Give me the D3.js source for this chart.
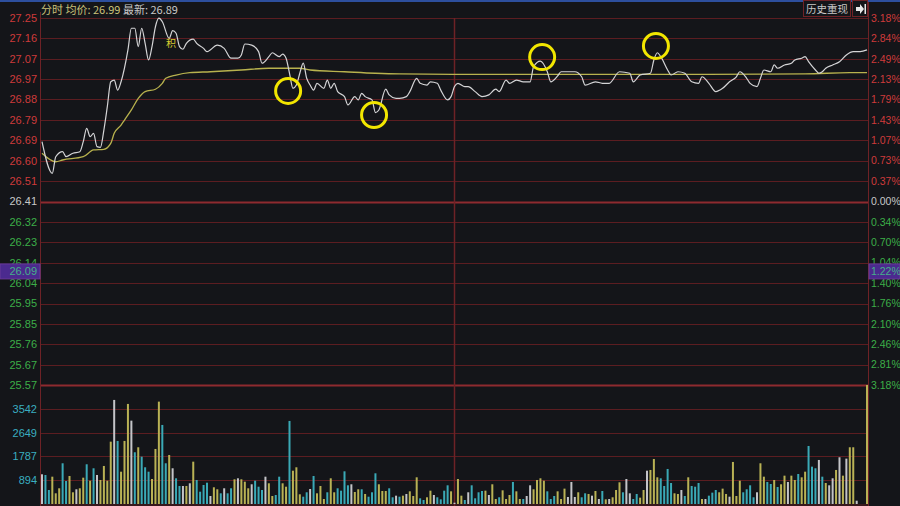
<!DOCTYPE html>
<html><head><meta charset="utf-8">
<script src="https://cdn.jsdelivr.net/npm/d3@7"></script>
<style>html,body{margin:0;padding:0;background:#141519;overflow:hidden}</style>
</head><body><svg id="c" width="900" height="506"></svg>
<script>
// ---------- data ----------
const preClose = 26.41;
const priceTicks = [27.25,27.157,27.063,26.970,26.877,26.783,26.690,26.597,26.503,26.41,26.317,26.223,26.130,26.037,25.943,25.850,25.757,25.663,25.57];
const leftLabels = ["27.25","27.16","27.07","26.97","26.88","26.79","26.69","26.60","26.51","26.41","26.32","26.23","26.14","26.04","25.95","25.85","25.76","25.67","25.57"];
const rightLabels = ["3.18%","2.84%","2.49%","2.13%","1.79%","1.43%","1.07%","0.73%","0.37%","0.00%","0.34%","0.70%","1.04%","1.40%","1.76%","2.10%","2.46%","2.81%","3.18%"];
const volTicks = [894,1787,2649,3542];
const volLabels = ["894","1787","2649","3542"];

const priceMin = [0,3,4,6,7,9,11,12,13,14,15,16,17,18,19,20,21,22,23,25,26,27,28,29,30,31,32,33,34,35,37,38,39,40,41,42,44,45,47,48,51,53,55,57,58,59,61,63,64,66,67,69,70,71,72,73,74,75,76,77,78,79,80,82,83,84,85,86,88,89,91,92,93,94,96,97,98,100,101,103,104,106,107,109,110,112,113,115,116,118,119,120,121,123,124,126,128,130,132,133,135,136,138,140,142,143,145,147,148,150,151,155,157,158,161,163,165,168,171,172,174,177,178,179,180,182,183,185,187,189,191,192,194,196,198,200,202,203,205,206,208,209,210,212,213,214,216,218,219,221,222,223,225,226,227,228,230,232,234,236,238,240];
const priceVal = [26.684,26.539,26.615,26.638,26.615,26.631,26.638,26.684,26.745,26.707,26.722,26.661,26.658,26.737,26.844,26.958,26.966,26.920,26.958,27.104,27.203,27.203,27.119,27.203,27.134,27.058,27.119,27.210,27.249,27.233,27.157,27.192,27.180,27.119,27.107,27.134,27.153,27.134,27.111,27.096,27.126,27.111,27.066,27.066,27.081,27.131,27.126,27.096,27.043,27.073,27.091,27.073,27.085,27.066,26.997,26.928,26.943,26.997,27.043,26.974,26.943,26.920,26.951,26.928,26.966,26.928,26.951,26.913,26.890,26.852,26.890,26.875,26.905,26.890,26.875,26.817,26.829,26.924,26.898,26.882,26.882,26.890,26.913,26.974,26.951,26.943,26.958,26.951,26.920,26.875,26.890,26.936,26.951,26.936,26.936,26.913,26.890,26.898,26.924,26.913,26.966,26.951,26.966,26.958,26.958,27.027,27.053,27.004,26.958,26.985,27.004,27.004,26.981,26.943,26.958,26.951,26.951,27.004,26.997,26.958,26.989,26.997,27.058,27.091,27.073,27.012,26.989,27.004,26.997,26.958,26.951,26.981,26.951,26.913,26.928,26.958,26.981,27.004,26.974,26.951,26.936,26.974,27.012,27.004,27.035,27.020,27.035,27.043,27.058,27.066,27.073,27.050,27.012,26.997,27.004,27.020,27.035,27.050,27.081,27.096,27.096,27.104];

const avgMin = [0,4,6,12,15,18,20,21,23,24,26,28,30,33,35,36,39,43,49,58,66,75,78,88,97,104,125,136,178,222,235,240];
const avgVal = [26.631,26.592,26.600,26.615,26.646,26.649,26.676,26.722,26.760,26.783,26.829,26.882,26.913,26.924,26.951,26.974,26.989,27.000,27.004,27.012,27.020,27.020,27.012,27.004,26.997,26.994,26.992,26.992,26.992,26.994,27.000,27.000];

const volume = [
1106,1080,521,1017,398,585,1516,857,1043,436,548,585,980,1479,868,1330,1080,894,1416,868,
2321,3874,2347,1203,2347,3725,3103,1926,2112,1762,1367,1203,931,2049,3811,2943,1516,1825,1330,957,
671,671,671,771,1576,894,458,708,793,298,622,548,398,585,398,585,920,957,920,831,
585,734,868,644,521,1017,771,298,335,1017,771,644,3092,1240,1367,361,
272,436,559,1043,398,671,186,436,957,436,585,496,1217,696,734,447,548,548,373,272,
436,1143,734,484,484,585,250,310,272,310,373,472,298,994,212,149,250,496,335,250,
174,496,696,472,48,931,310,149,436,696,212,436,484,496,335,734,186,250,509,186,
335,820,472,186,186,298,696,548,894,957,868,472,186,298,472,186,572,261,820,261,
436,250,398,373,310,484,
186,484,174,186,250,521,808,436,931,398,186,373,236,521,1240,1267,1676,994,957,671,
1304,782,398,373,521,298,994,671,644,782,186,186,310,423,521,436,572,373,272,1565,
298,868,436,548,696,250,436,1516,1017,820,745,894,633,734,1055,820,1055,894,1117,994,
1203,2160,1390,1330,1639,1017,782,696,957,1267,1739,1055,1689,2112,2112,123,
0,0,4430];
// colour kind per bar: u = up (yellow), d = down (cyan), f = flat (white)
const kinds = [
"f","d","d","u","u","u","d","d","u","u","f","u","u","d","u","d","f","u","u","u",
"u","f","d","u","u","u","f","d","u","d","d","d","u","u","u","d","d","u","f","d",
"d","f","u","f","u","d","d","d","d","f","u","u","d","f","d","d","u","f","u","u",
"u","f","d","d","d","f","u","u","d","d","u","u","d","u","u","u",
"d","d","f","d","u","u","u","d","u","u","d","d","d","d","f","u","u","d","u","d",
"d","d","u","u","u","d","d","f","d","u","f","u","u","u","d","d","u","u","f","d",
"d","d","d","u","f","u","u","d","f","d","d","d","d","u","f","u","u","d","u","u",
"u","d","u","u","d","f","f","u","u","u","u","d","d","d","u","u","u","f","f","f",
"u","d","d","u","f","u",
"f","d","u","f","u","u","u","d","f","f","d","d","u","u","f","u","u","u","d","d",
"d","d","u","u","f","d","u","d","d","d","u","f","d","d","d","u","u","u","f","u",
"u","u","d","d","d","d","f","u","u","d","d","u","d","u","u","f","u","u","d","u",
"u","d","d","d","f","d","u","f","f","u","f","u","f","u","u","f",
"u","u","u"];

const circleMin = [71.6, 96.6, 145.5, 178.6];
const circleVal = [26.916, 26.806, 27.071, 27.122];

// ---------- drawing ----------
const svg = d3.select("#c");
const W = 900, H = 506;
const L = 40, R = 868;
const x = d3.scaleLinear().domain([0, 240]).range([42, 867]);
const yP = d3.scaleLinear().domain([25.57, 27.25]).range([385, 18]);
const yV = d3.scaleLinear().domain([0, 4430]).range([504, 385]);

const gridC = "#5c1d21", thickC = "#8e2a2f";
const red = "#cf3b3b", green = "#3cae48", cyan = "#3aaec0", white = "#c8c8c8";
const font = "'Liberation Sans', Arial, sans-serif";

svg.append("rect").attr("width", W).attr("height", H).attr("fill", "#141519");
svg.append("rect").attr("x", 0).attr("y", 0).attr("width", W).attr("height", 2).attr("fill", "#2d4f9e");

// price grid
priceTicks.forEach((t, i) => {
  const y = Math.round(yP(t)) + 0.5;
  const thick = (i === 9 || i === 18);
  svg.append("line").attr("x1", L).attr("x2", R).attr("y1", y).attr("y2", y)
    .attr("stroke", thick ? thickC : gridC).attr("stroke-width", thick ? 2 : 1);
});
// volume grid
volTicks.forEach(v => {
  const y = Math.round(yV(v)) + 0.5;
  svg.append("line").attr("x1", L).attr("x2", R).attr("y1", y).attr("y2", y)
    .attr("stroke", gridC).attr("stroke-width", 1);
});
svg.append("line").attr("x1", L).attr("x2", R).attr("y1", 505).attr("y2", 505).attr("stroke", gridC);
// vertical lines
svg.append("line").attr("x1", L + 0.5).attr("x2", L + 0.5).attr("y1", 12).attr("y2", H).attr("stroke", "#6e2226");
svg.append("line").attr("x1", R + 0.5).attr("x2", R + 0.5).attr("y1", 2).attr("y2", H).attr("stroke", "#6e2226");
const midX = Math.round(x(120)) - 0.5;
svg.append("line").attr("x1", midX).attr("x2", midX).attr("y1", 18).attr("y2", H).attr("stroke", "#6e2226").attr("stroke-width", 1.5);

// left/right labels
leftLabels.forEach((s, i) => {
  const col = i < 9 ? red : (i === 9 ? white : green);
  svg.append("text").attr("x", 37).attr("y", yP(priceTicks[i])).attr("dy", "0.36em")
    .attr("text-anchor", "end").attr("font-family", font).attr("font-size", 11).attr("fill", col).text(s);
});
rightLabels.forEach((s, i) => {
  const col = i < 9 ? red : (i === 9 ? white : green);
  svg.append("text").attr("x", 871).attr("y", yP(priceTicks[i])).attr("dy", "0.36em")
    .attr("font-family", font).attr("font-size", 10.5).attr("fill", col).text(s);
});
volTicks.forEach((v, i) => {
  svg.append("text").attr("x", 37).attr("y", yV(v)).attr("dy", "0.36em")
    .attr("text-anchor", "end").attr("font-family", font).attr("font-size", 11).attr("fill", cyan).text(volLabels[i]);
});

// highlight boxes
const hy = yP(26.09);
svg.append("rect").attr("x", 0).attr("y", hy - 7.5).attr("width", 40).attr("height", 15)
  .attr("fill", "#4b2a8f").attr("stroke", "#6a3a9a");
svg.append("text").attr("x", 37).attr("y", hy).attr("dy", "0.36em").attr("text-anchor", "end")
  .attr("font-family", font).attr("font-size", 11).attr("fill", "#46b08a").text("26.09");
svg.append("rect").attr("x", 869).attr("y", hy - 7.5).attr("width", 31).attr("height", 15)
  .attr("fill", "#4b2a8f").attr("stroke", "#6a3a9a");
svg.append("text").attr("x", 871).attr("y", hy).attr("dy", "0.36em")
  .attr("font-family", font).attr("font-size", 10.5).attr("fill", "#46b08a").text("1.22%");

// volume bars
const kColor = { u: "#b9b255", d: "#3aa9b6", f: "#c4c4c8" };
svg.append("g").selectAll("rect").data(volume).join("rect")
  .attr("x", (d, i) => x(i) - 1)
  .attr("y", d => yV(d))
  .attr("width", 2)
  .attr("height", d => 504 - yV(d))
  .attr("fill", (d, i) => kColor[kinds[i]] || kColor.u);

// lines
const avgData = avgMin.map((m, i) => [m, avgVal[i]]);
const priceData = priceMin.map((m, i) => [m, priceVal[i]]);
const lineGen = d3.line().x(d => x(d[0])).y(d => yP(d[1])).curve(d3.curveMonotoneX);
svg.append("path").attr("d", lineGen(avgData)).attr("fill", "none").attr("stroke", "#b8b24e").attr("stroke-width", 1.3);
svg.append("path").attr("d", lineGen(priceData)).attr("fill", "none").attr("stroke", "#d4d4d6").attr("stroke-width", 1.2);

// marker
svg.append("text").attr("x", 171).attr("y", 43).attr("dy", "0.36em").attr("text-anchor", "middle")
  .attr("font-family", "'Noto Sans CJK SC', sans-serif").attr("font-size", 10).attr("fill", "#d8cc30").text("积");

// circles
circleMin.forEach((m, i) => {
  svg.append("circle").attr("cx", x(m)).attr("cy", yP(circleVal[i])).attr("r", 12.5)
    .attr("fill", "none").attr("stroke", "#f2e600").attr("stroke-width", 3);
});

// header
const hdr = svg.append("text").attr("x", 41).attr("y", 14).attr("font-family", "'Noto Sans CJK SC', sans-serif").attr("font-size", 11);
hdr.append("tspan").attr("fill", "#c9c27a").text("分时 均价: 26.99 ");
hdr.append("tspan").attr("fill", "#c8c8c8").text("最新: 26.89");

// top right button
svg.append("rect").attr("x", 803.5).attr("y", 0.5).attr("width", 47).attr("height", 16).attr("fill", "#141519").attr("stroke", "#6e2226");
svg.append("text").attr("x", 827).attr("y", 9).attr("dy", "0.36em").attr("text-anchor", "middle")
  .attr("font-family", "'Noto Sans CJK SC', sans-serif").attr("font-size", 10.5).attr("fill", "#c8c8c8").text("历史重现");
svg.append("rect").attr("x", 852.5).attr("y", 0.5).attr("width", 15).attr("height", 16).attr("fill", "#141519").attr("stroke", "#6e2226");
svg.append("path").attr("d", "M856,7 h4 v-3 l4,5 l-4,5 v-3 h-4 z").attr("fill", "#e8e8e8");
svg.append("rect").attr("x", 864.5).attr("y", 4).attr("width", 1.5).attr("height", 10).attr("fill", "#e8e8e8");
</script></body></html>
